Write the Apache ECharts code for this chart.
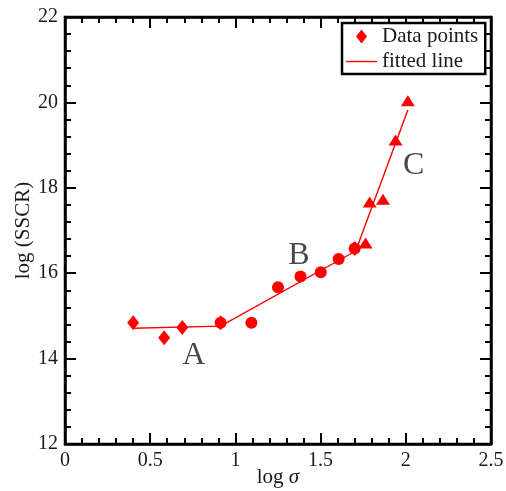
<!DOCTYPE html>
<html>
<head>
<meta charset="utf-8">
<script src="https://cdn.jsdelivr.net/npm/echarts@6/dist/echarts.min.js"></script>
<style>
  html, body { margin: 0; padding: 0; background: #fff; }
  #chart { width: 506px; height: 491px; }
</style>
</head>
<body>
<div id="chart"></div>
<script>
// Region A measurements (diamonds)
const aX = [0.400, 0.582, 0.688, 0.913, 1.700];
const aY = [14.84, 14.49, 14.73, 14.84, 16.58];
// Region B measurements (circles)
const bX = [0.913, 1.094, 1.250, 1.382, 1.501, 1.606, 1.700];
const bY = [14.84, 14.84, 15.67, 15.92, 16.02, 16.33, 16.58];
// Region C measurements (triangles)
const cX = [1.764, 1.788, 1.866, 1.940, 2.012];
const cY = [16.71, 17.67, 17.73, 19.12, 20.04];
// Piecewise fitted line vertices
const fitX = [0.400, 0.913, 1.706, 2.012];
const fitY = [14.71, 14.76, 16.52, 19.82];
// Region labels
const regionNames = ['A', 'B', 'C'];
const regionX = [0.756, 1.373, 2.046];
const regionY = [14.08, 16.41, 18.53];

const FONT = 'Liberation Serif';
const RED = '#ff0000';
const INK = '#1a1a1a';
const zip = (xs, ys) => xs.map((x, i) => [x, ys[i]]);

function frameAxis(extra) {
  return Object.assign({
    nameMoveOverlap: false,
    axisLine: { show: true, onZero: false, lineStyle: { color: '#000', width: 2.5 } },
    axisTick: { show: true, inside: true, length: 11, lineStyle: { color: '#000', width: 2 } },
    minorTick: { show: true, splitNumber: 5, length: 6, lineStyle: { color: '#000', width: 2 } },
    splitLine: { show: false },
    minorSplitLine: { show: false }
  }, extra);
}

const chart = echarts.init(document.getElementById('chart'), null, { renderer: 'canvas' });
chart.setOption({
  backgroundColor: '#fff',
  animation: false,
  grid: {
    left: 65, right: 15, top: 17, bottom: 47,
    show: true, borderColor: '#000', borderWidth: 2.5,
    backgroundColor: 'transparent',
    outerBoundsMode: 'none'
  },
  legend: {
    orient: 'vertical', left: 342, top: 23,
    data: [
      { name: 'Data points', icon: 'path://M0,-7L5.5,0L0,7L-5.5,0Z' },
      { name: 'fitted line', icon: 'path://M0,0L31,0L31,1.4L0,1.4Z' }
    ],
    symbolKeepAspect: true,
    itemWidth: 31, itemHeight: 14, itemGap: 4,
    padding: [3, 7, 2, 4],
    borderColor: '#000', borderWidth: 2.5, borderRadius: 0,
    backgroundColor: '#fff',
    selectedMode: false,
    textStyle: { fontFamily: FONT, fontSize: 21, lineHeight: 21, color: INK }
  },
  xAxis: [
    frameAxis({
      type: 'value', min: 0, max: 2.5, interval: 0.5, position: 'bottom',
      axisLabel: { fontFamily: FONT, fontSize: 20, color: INK, margin: 7 },
      name: '{a|log }{b|σ}', nameLocation: 'middle', nameGap: 23,
      nameTextStyle: {
        fontFamily: FONT, fontSize: 21, color: INK,
        rich: {
          a: { fontFamily: FONT, fontSize: 21, lineHeight: 21, color: INK },
          b: { fontFamily: FONT, fontSize: 21, lineHeight: 21, color: INK, fontStyle: 'italic' }
        }
      }
    }),
    frameAxis({
      type: 'value', min: 0, max: 2.5, interval: 0.5, position: 'top',
      axisLabel: { show: false }
    })
  ],
  yAxis: [
    frameAxis({
      type: 'value', min: 12, max: 22, interval: 2, position: 'left',
      axisLabel: { fontFamily: FONT, fontSize: 20, color: INK, margin: 7 },
      name: 'log (SSCR)', nameLocation: 'middle', nameGap: 31,
      nameTextStyle: { fontFamily: FONT, fontSize: 21, color: INK }
    }),
    frameAxis({
      type: 'value', min: 12, max: 22, interval: 2, position: 'right',
      axisLabel: { show: false }
    })
  ],
  series: [
    {
      name: 'fitted line', type: 'line', data: zip(fitX, fitY),
      symbol: 'none', showSymbol: false, z: 2,
      lineStyle: { color: RED, width: 1.4 }, itemStyle: { color: RED }
    },
    {
      name: 'Data points', type: 'scatter', data: zip(aX, aY),
      symbol: 'diamond', symbolSize: [12, 15], z: 3,
      itemStyle: { color: RED, opacity: 1 }
    },
    {
      name: 'Data points', type: 'scatter', data: zip(bX, bY),
      symbol: 'circle', symbolSize: 12, z: 4,
      itemStyle: { color: RED, opacity: 1 }
    },
    {
      name: 'Data points', type: 'scatter', data: zip(cX, cY),
      symbol: 'triangle', symbolSize: [14, 11], z: 4,
      itemStyle: { color: RED, opacity: 1 }
    },
    {
      name: 'regions', type: 'scatter', silent: true, z: 5,
      data: regionNames.map((n, i) => ({ name: n, value: [regionX[i], regionY[i]] })),
      symbolSize: 1, itemStyle: { color: 'rgba(0,0,0,0)' },
      label: {
        show: true, position: 'inside', formatter: p => p.name,
        fontFamily: FONT, fontSize: 32, color: INK, textBorderWidth: 0
      }
    }
  ]
});
</script>
</body>
</html>
